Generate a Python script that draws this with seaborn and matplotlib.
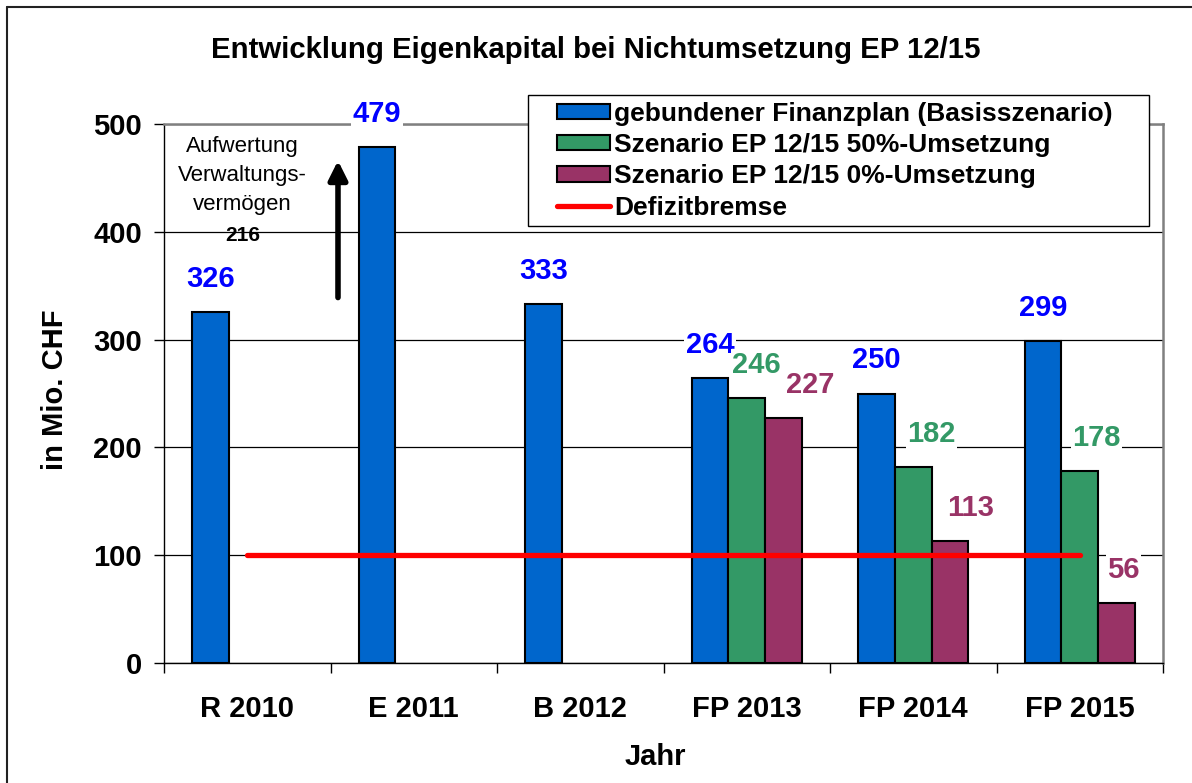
import numpy as np
import pandas as pd
import matplotlib
matplotlib.use("Agg")
import matplotlib.pyplot as plt
from matplotlib.lines import Line2D
from matplotlib.patches import Patch, Rectangle
from matplotlib.legend_handler import HandlerPatch, HandlerLine2D
import seaborn as sns

# --- data ---------------------------------------------------------------
categories = ["R 2010", "E 2011", "B 2012", "FP 2013", "FP 2014", "FP 2015"]
series_names = [
    "gebundener Finanzplan (Basisszenario)",
    "Szenario EP 12/15 50%-Umsetzung",
    "Szenario EP 12/15 0%-Umsetzung",
]
basis = [326, 479, 333, 264, 250, 299]
ep_50 = [np.nan, np.nan, np.nan, 246, 182, 178]
ep_0 = [np.nan, np.nan, np.nan, 227, 113, 56]
defizitbremse = [100, 100, 100, 100, 100, 100]
aufwertung = 216

# --- styling ------------------------------------------------------------
bar_colors = ["#0066CC", "#339966", "#993366"]
label_colors = ["#0000FF", "#339966", "#993366"]
# horizontal shift (px) of the value labels, per series and category
label_dx = [
    [0, 0, 0, 0, 0, 0],
    [0, 0, 0, 10, 18, 17],
    [0, 0, 0, 27, 21, 7],
]

sns.set_style("white")
plt.rcParams["font.family"] = ["Liberation Sans", "DejaVu Sans"]
plt.rcParams["text.color"] = "black"
plt.rcParams["xtick.color"] = "black"
plt.rcParams["ytick.color"] = "black"
plt.rcParams["axes.labelcolor"] = "black"

W, H = 1192, 783
fig = plt.figure(figsize=(W / 100, H / 100), dpi=100)
ax = fig.add_axes([164 / W, 1 - 663 / H, (1163 - 164) / W, (663 - 124) / H])

rows = []
for name, vals in zip(series_names, [basis, ep_50, ep_0]):
    for cat, v in zip(categories, vals):
        if not np.isnan(v):
            rows.append({"Jahr": cat, "Szenario": name, "Wert": v})
df = pd.DataFrame(rows)

sns.barplot(
    data=df, x="Jahr", y="Wert", hue="Szenario",
    order=categories, hue_order=series_names,
    palette=bar_colors, saturation=1, width=0.66,
    errorbar=None, edgecolor="black", linewidth=1.5, ax=ax, legend=False,
)

ax.plot(range(len(categories)), defizitbremse, color="#FF0000", lw=3.8,
        solid_capstyle="round", zorder=4)

# value labels
for s, container in enumerate(ax.containers):
    for bar in container:
        h = bar.get_height()
        if np.isnan(h):
            continue
        xc = bar.get_x() + bar.get_width() / 2
        i = int(round(xc))
        ax.annotate(f"{h:.0f}", xy=(xc, h), xytext=(label_dx[s][i], 33),
                    textcoords="offset pixels", ha="center", va="center",
                    fontsize=21, fontweight="bold", color=label_colors[s],
                    zorder=6,
                    bbox=dict(facecolor="white", edgecolor="none", pad=1))

# revaluation note
ax.text(-0.03, 452, "Aufwertung\nVerwaltungs-\nvermögen", ha="center",
        va="center", fontsize=16, linespacing=1.5)
ax.text(-0.03, 397, f"{aufwertung}", ha="center", va="center",
        fontsize=15, fontweight="bold")
ax.annotate("", xy=(0.545, 466), xytext=(0.545, 339),
            arrowprops=dict(arrowstyle="-|>", color="black", lw=4,
                            mutation_scale=28, shrinkA=0, shrinkB=0))

# axes
ax.set_ylim(0, 500)
ax.set_xlim(-0.5, len(categories) - 0.5)
ax.set_yticks([0, 100, 200, 300, 400, 500])
ax.set_xticks(range(len(categories)))
ax.set_xticklabels(categories)
ax.set_xticks(np.arange(-0.5, len(categories)), minor=True)
ax.tick_params(axis="x", which="major", length=0, pad=23, labelsize=21)
ax.tick_params(axis="x", which="minor", length=7, width=1, color="black",
               direction="out", bottom=True)
ax.tick_params(axis="y", length=7, width=1, color="black", direction="out",
               left=True, pad=9, labelsize=21)
for lab in ax.get_xticklabels() + ax.get_yticklabels():
    lab.set_fontweight("bold")
ax.set_xlabel("")
ax.set_ylabel("")
ax.yaxis.grid(True, color="black", lw=0.9)
ax.set_axisbelow(True)
for side in ["left", "bottom"]:
    ax.spines[side].set_color("black")
    ax.spines[side].set_linewidth(1.0)
for side in ["top", "right"]:
    ax.spines[side].set_color("#808080")
    ax.spines[side].set_linewidth(1.8)


# legend: handles sit in the right part of the handle box (Excel look)
def right_rect(legend, orig_handle, xdescent, ydescent, width, height, fontsize):
    return Rectangle((-xdescent + 0.3 * width, -ydescent), 0.7 * width, height)


class RightLine(HandlerLine2D):
    def get_xdata(self, legend, xdescent, ydescent, width, height, fontsize):
        xd = np.array([-xdescent + 0.3 * width, -xdescent + width])
        return xd, xd


handles = [Patch(facecolor=c, edgecolor="black", linewidth=1.5) for c in bar_colors]
handles.append(Line2D([], [], color="#FF0000", lw=3.8, solid_capstyle="round"))
labels = series_names + ["Defizitbremse"]
handler_map = {Patch: HandlerPatch(patch_func=right_rect), Line2D: RightLine()}
leg = ax.legend(handles, labels, handler_map=handler_map, loc="upper left",
                bbox_to_anchor=(528 / W, 1 - 226 / H, 621 / W, 131 / H),
                bbox_transform=fig.transFigure, borderaxespad=0, mode="expand",
                frameon=True, fancybox=False, framealpha=1,
                edgecolor="black", prop={"weight": "bold", "size": 19},
                handlelength=2.85, handleheight=0.5, handletextpad=0.15,
                labelspacing=0.28, borderpad=0.25)
leg.get_frame().set_linewidth(1.0)
leg.set_zorder(10)

fig.text(0.5, 1 - 50 / H, "Entwicklung Eigenkapital bei Nichtumsetzung EP 12/15",
         ha="center", va="center", fontsize=21.2, fontweight="bold")
fig.text(55 / W, 1 - 390 / H, "in Mio. CHF", rotation=90, ha="center",
         va="center", fontsize=21, fontweight="bold")
fig.text(655 / W, 1 - 757 / H, "Jahr", ha="center", va="center",
         fontsize=21, fontweight="bold")

# chart-area border (left and top edges visible)
fig.add_artist(Line2D([7 / W, 7 / W], [0, 1 - 7 / H], color="#222222", lw=1.5))
fig.add_artist(Line2D([7 / W, 1], [1 - 7 / H, 1 - 7 / H], color="#222222", lw=1.5))

fig.savefig("out.png", dpi=100)
